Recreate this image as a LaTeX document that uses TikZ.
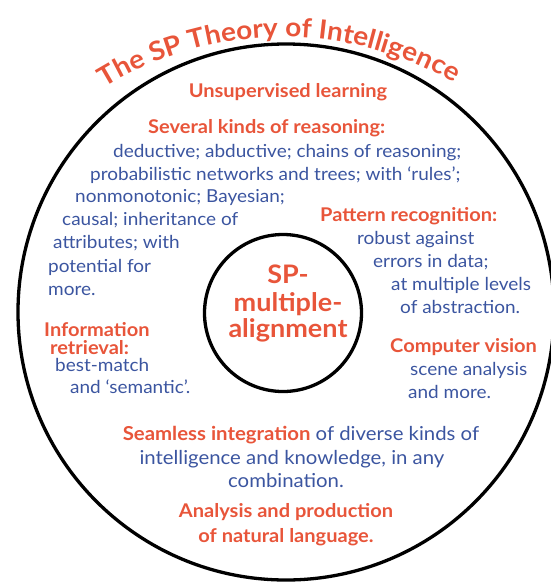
\documentclass[tikz,border=0pt]{standalone}
\usepackage{fontspec}
\setmainfont{Lato}[FakeStretch=1.06]
\usetikzlibrary{decorations.text}
\definecolor{spred}{RGB}{232,85,58}
\definecolor{spblue}{RGB}{59,85,160}
\tikzset{
  x=1pt, y=-1pt,
  ring/.style={draw=black, line width=3.3pt},
  hd/.style={font=\bfseries\fontsize{18.9}{20}\selectfont, text=spred, inner sep=0pt, anchor=base west},
  bd/.style={font=\fontsize{17.9}{20}\selectfont, text=spblue, inner sep=0pt, anchor=base west},
  bdl/.style={bd, font=\fontsize{19.2}{21}\selectfont},
  core/.style={font=\bfseries\fontsize{25.5}{27}\selectfont, text=spred, inner sep=0pt, anchor=base},
}
\begin{document}
\begin{tikzpicture}
\useasboundingbox (0,0) rectangle (551,582);
% circles
\node[ring, circle, minimum size=536pt, inner sep=0pt] (outer) at (286,312) {};
\node[ring, circle, minimum size=157pt, inner sep=0pt] (inner) at (283,313) {};
% title
\path[decorate, decoration={text along path, text align=center,
  text={|\bfseries\fontsize{26.4}{30}\selectfont\color{spred}|The SP Theory of Intelligence}}]
  (283,377) ++(209.3:340) arc[start angle=209.3, end angle=329.3, radius=340];
% centre
\node[core] (c1) at (288,283) {SP-};
\node[core] (c2) at (288,311) {multiple-};
\node[core] (c3) at (288,337) {alignment};
% top
\node[hd, anchor=base] (ul) at (288,97) {Unsupervised learning};
\node[hd] (skr) at (148,133) {Several kinds of reasoning:};
\node[bd] (r1) at (113,157) {deductive; abductive; chains of reasoning;};
\node[bd] (r2) at (90,180) {probabilistic networks and trees; with ‘rules’;};
\node[bd] (r3) at (75,202) {nonmonotonic; Bayesian;};
\node[bd] (r4) at (62,225) {causal; inheritance of};
\node[bd] (r5) at (53,248) {attributes; with};
\node[bd] (r6) at (48,272) {potential for};
\node[bd] (r7) at (48,295) {more.};
% pattern recognition
\node[hd] (pr) at (320,221) {Pattern recognition:};
\node[bd] (p1) at (357,244) {robust against};
\node[bd] (p2) at (373,267) {errors in data;};
\node[bd] (p3) at (391,290) {at multiple levels};
\node[bd] (p4) at (400,313) {of abstraction.};
% computer vision
\node[hd] (cv) at (390,352) {Computer vision};
\node[bd] (v1) at (410,375) {scene analysis};
\node[bd] (v2) at (408,398) {and more.};
% information retrieval
\node[hd] (ir1) at (44,336) {Information};
\node[hd] (ir2) at (50,354) {retrieval:};
\node[bd] (i1) at (55,371) {best-match};
\node[bd] (i2) at (70,393) {and ‘semantic’.};
% seamless integration
\node[bdl, anchor=base] (s1) at (301,440) {{\bfseries\color{spred}Seamless integration} of diverse kinds of};
\node[bdl, anchor=base] (s2) at (292,464) {intelligence and knowledge, in any};
\node[bdl, anchor=base] (s3) at (286,487) {combination.};
% natural language
\node[hd, anchor=base] (nl1) at (286,517) {Analysis and production};
\node[hd, anchor=base] (nl2) at (286,542) {of natural language.};
\end{tikzpicture}
\end{document}
